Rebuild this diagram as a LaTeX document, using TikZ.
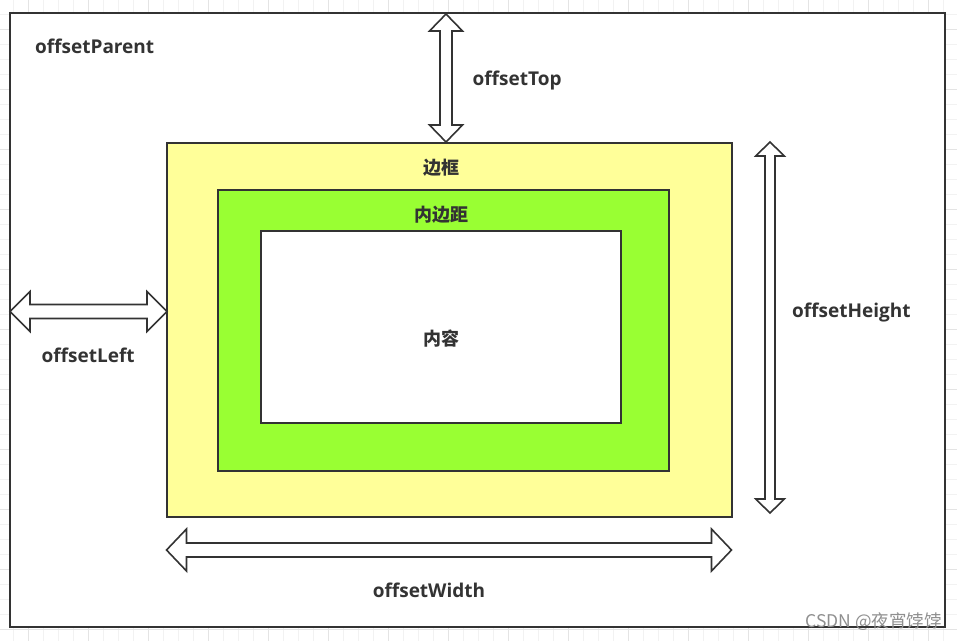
\documentclass[tikz,border=0pt]{standalone}
\usepackage{fontspec}
\setmainfont{Open Sans}
\newfontfamily\cjk{Noto Sans CJK SC}
\usetikzlibrary{calc}
\definecolor{ink}{HTML}{333333}
\definecolor{bordery}{HTML}{FFFF99}
\definecolor{paddg}{HTML}{99FF33}
\definecolor{gridminor}{HTML}{F2F2F2}
\definecolor{gridmajor}{HTML}{E4E4E4}
\tikzset{
  boxsty/.style={draw=ink, line width=2pt},
  arrowsty/.style={draw=ink, fill=white, line width=1.6pt, line join=miter},
  lab/.style={text=ink, font=\bfseries\fontsize{19}{22}\selectfont, inner sep=0pt},
  cjklab/.style={text=ink, font=\cjk\bfseries\fontsize{18}{20}\selectfont, inner sep=0pt},
}
\newcommand{\hdarrow}[6]{% x1 x2 y headhalf shafthalf headlen
  \draw[arrowsty] (#1,#3) -- ({#1+#6},{#3-#4}) -- ({#1+#6},{#3-#5}) -- ({#2-#6},{#3-#5}) -- ({#2-#6},{#3-#4}) -- (#2,#3) -- ({#2-#6},{#3+#4}) -- ({#2-#6},{#3+#5}) -- ({#1+#6},{#3+#5}) -- ({#1+#6},{#3+#4}) -- cycle;}
\newcommand{\vdarrow}[6]{% y1 y2 x headhalf shafthalf headlen
  \draw[arrowsty] (#3,#1) -- ({#3-#4},{#1+#6}) -- ({#3-#5},{#1+#6}) -- ({#3-#5},{#2-#6}) -- ({#3-#4},{#2-#6}) -- (#3,#2) -- ({#3+#4},{#2-#6}) -- ({#3+#5},{#2-#6}) -- ({#3+#5},{#1+#6}) -- ({#3+#4},{#1+#6}) -- cycle;}
\begin{document}
\begin{tikzpicture}[x=1pt,y=-1pt]
\useasboundingbox (0,0) rectangle (957,641);
% background grid
\foreach \i in {0,...,64} {
  \pgfmathsetmacro{\gx}{13.3+15*\i-15}
  \draw[gridminor, line width=0.8pt] (\gx,0) -- (\gx,641);
}
\foreach \j in {0,...,43} {
  \pgfmathsetmacro{\gy}{14.3+15*\j-15}
  \draw[gridminor, line width=0.8pt] (0,\gy) -- (957,\gy);
}
\foreach \i in {0,...,16} {
  \pgfmathsetmacro{\gx}{28.3+60*\i-60}
  \draw[gridmajor, line width=0.8pt] (\gx,0) -- (\gx,641);
}
\foreach \j in {0,...,11} {
  \pgfmathsetmacro{\gy}{29.3+60*\j-60}
  \draw[gridmajor, line width=0.8pt] (0,\gy) -- (957,\gy);
}
% offsetParent box
\coordinate (parentNW) at (10,13);
\coordinate (parentSE) at (945,627);
\draw[boxsty, fill=white] (parentNW) rectangle (parentSE);
% border box
\coordinate (borderNW) at (167,143);
\coordinate (borderSE) at (732,517);
\draw[boxsty, fill=bordery] (borderNW) rectangle (borderSE);
% padding box
\coordinate (padNW) at (218,190);
\coordinate (padSE) at (669,470.5);
\draw[boxsty, fill=paddg] (padNW) rectangle (padSE);
% content box
\coordinate (contNW) at (261,231);
\coordinate (contSE) at (621,423);
\draw[boxsty, fill=white] (contNW) rectangle (contSE);
% arrows
\vdarrow{14}{142}{446}{16.5}{6}{17}
\hdarrow{10}{167}{311.5}{20}{7}{20}
\vdarrow{142}{513}{770}{14.3}{5}{14}
\hdarrow{166.5}{731.5}{550}{21}{7}{20}
% labels
\node[lab, anchor=west] (lparent) at (35,46) {offsetParent};
\node[lab, anchor=west] (ltop) at (472.5,81) {offsetTop};
\node[lab, anchor=west] (lleft) at (41.5,355.5) {offsetLeft};
\node[lab, anchor=west] (lheight) at (792,312.5) {offsetHeight};
\node[lab] (lwidth) at (429,590) {offsetWidth};
\node[cjklab] (lborder) at (441,168) {边框};
\node[cjklab] (lpad) at (441,215) {内边距};
\node[cjklab] (lcont) at (441,339) {内容};
\node[text=ink!55, font=\cjk\fontsize{17.5}{19}\selectfont, inner sep=0pt, anchor=east] (wm) at (942,622) {CSDN @夜宵饽饽};
\end{tikzpicture}
\end{document}
